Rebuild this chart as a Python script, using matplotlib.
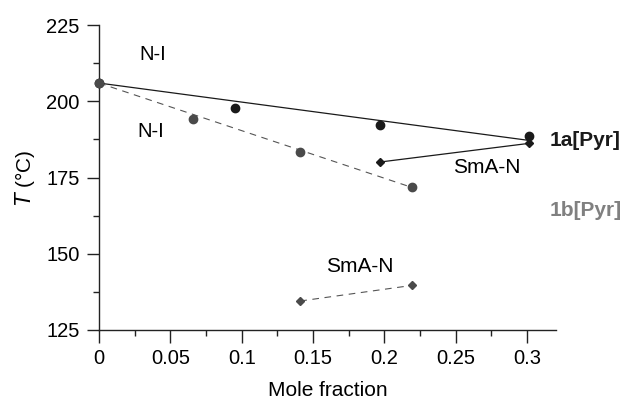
import numpy as np
import matplotlib.pyplot as plt
from matplotlib.ticker import MultipleLocator, FuncFormatter

plt.rcParams['font.family'] = ['Liberation Sans', 'DejaVu Sans']

# 1a[Pyr] N-I transition (black circles) and fitted line
x_1a_ni = [0.0, 0.095, 0.197, 0.301]
t_1a_ni = [206.0, 197.9, 192.2, 188.7]
fit_1a_x = [0.0, 0.301]
fit_1a_t = [206.0, 187.2]

# 1a[Pyr] SmA-N (diamonds)
x_1a_sn = [0.197, 0.301]
t_1a_sn = [180.1, 186.2]

# 1b[Pyr] N-I (gray circles)
x_1b_ni = [0.0, 0.066, 0.141, 0.219]
t_1b_ni = [206.0, 194.1, 183.5, 171.8]
fit_1b_x = [0.0, 0.219]
fit_1b_t = [206.0, 171.8]

# 1b[Pyr] SmA-N (diamonds)
x_1b_sn = [0.141, 0.219]
t_1b_sn = [134.5, 139.6]

fig = plt.figure(figsize=(6.23, 3.99), dpi=100)
ax = fig.add_axes([0.159, 0.173, 0.733, 0.764])

black = '#1a1a1a'
gray = '#4a4a4a'

ax.plot(fit_1a_x, fit_1a_t, '-', color=black, lw=0.9)
ax.plot(x_1a_sn, t_1a_sn, '-', color=black, lw=0.9)
ax.plot(fit_1b_x, fit_1b_t, '--', color='#555555', lw=0.8, dashes=(6, 5))
ax.plot(x_1b_sn, t_1b_sn, '--', color='#555555', lw=0.8, dashes=(6, 5))

ax.plot(x_1a_ni, t_1a_ni, 'o', color=black, ms=6, clip_on=False, zorder=5)
ax.plot(x_1b_ni, t_1b_ni, 'o', color=gray, ms=6, clip_on=False, zorder=5)
ax.plot(x_1a_sn, t_1a_sn, 'D', color=black, ms=4, clip_on=False, zorder=5)
ax.plot(x_1b_sn, t_1b_sn, 'D', color=gray, ms=4, clip_on=False, zorder=5)

ax.set_xlim(0, 0.32)
ax.set_ylim(125, 225)
ax.spines['top'].set_visible(False)
ax.spines['right'].set_visible(False)
for s in ['left', 'bottom']:
    ax.spines[s].set_color('#222222')
    ax.spines[s].set_linewidth(1.0)

ax.xaxis.set_major_locator(MultipleLocator(0.05))
ax.xaxis.set_minor_locator(MultipleLocator(0.025))
ax.yaxis.set_major_locator(MultipleLocator(25))
ax.yaxis.set_minor_locator(MultipleLocator(12.5))
ax.xaxis.set_major_formatter(FuncFormatter(lambda v, p: '0' if abs(v) < 1e-9 else ('%g' % round(v, 3))))
ax.tick_params(which='major', length=9, width=1.0, color='#222222', labelsize=14.5, pad=5)
ax.tick_params(which='minor', length=4.5, width=1.0, color='#222222')

ax.set_xlabel('Mole fraction', fontsize=15, labelpad=9)
ax.set_ylabel('$T$ (\u00b0C)', fontsize=15, labelpad=7)

ax.text(0.0375, 215.5, 'N-I', fontsize=14.5, ha='center', va='center')
ax.text(0.036, 190.0, 'N-I', fontsize=14.5, ha='center', va='center')
ax.text(0.272, 178.4, 'SmA-N', fontsize=15, ha='center', va='center')
ax.text(0.183, 145.7, 'SmA-N', fontsize=15, ha='center', va='center')
ax.text(0.316, 187.3, '1a[Pyr]', fontsize=15, fontweight='bold', ha='left', va='center',
        color='#1a1a1a', clip_on=False)
ax.text(0.316, 164.3, '1b[Pyr]', fontsize=15, fontweight='bold', ha='left', va='center',
        color='#808080', clip_on=False)

fig.savefig('out.png', dpi=100)
